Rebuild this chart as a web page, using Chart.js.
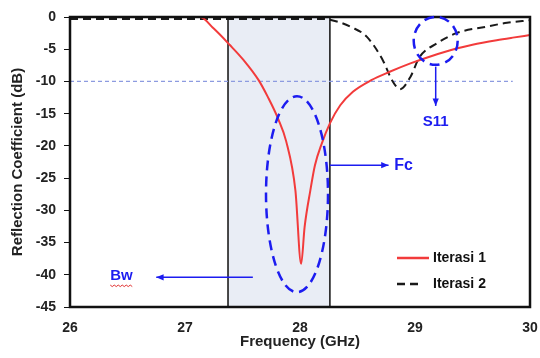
<!DOCTYPE html>
<html lang="en">
<head>
<meta charset="UTF-8">
<title>Reflection Coefficient</title>
<script src="https://cdn.jsdelivr.net/npm/chart.js"></script>
<style>
  body { margin: 0; padding: 0; background: #ffffff; }
  #wrap { width: 540px; height: 358px; }
</style>
</head>
<body>
<div id="wrap"><canvas id="chart" width="540" height="358"></canvas></div>
<script>
// Iterasi 1 (red, solid)
const freq1 = [26, 27.13, 27.25, 27.39, 27.51, 27.64, 27.72, 27.81, 27.88, 27.96, 28.01,
               28.04, 28.09, 28.13, 28.19, 28.26, 28.35, 28.46, 28.62, 28.78,
               28.96, 29.12, 29.36, 29.50, 29.71, 29.85, 30];
const iter1 = [0, 0, -1.8, -4.35, -6.7, -9.8, -12.4, -15.8, -19.3, -26.9, -38.3,
               -32.6, -26.9, -23.0, -19.6, -16.5, -13.7, -11.6, -9.8, -8.5,
               -7.2, -6.2, -4.9, -4.3, -3.6, -3.2, -2.8];
// Iterasi 2 (black, dashed)
const freq2 = [26, 27.0, 28.2, 28.32, 28.45, 28.58, 28.72, 28.80, 28.87, 28.96, 29.04,
               29.19, 29.36, 29.62, 29.80, 30];
const iter2 = [-0.3, -0.3, -0.3, -0.7, -1.6, -3.05, -6.7, -9.8, -11.2, -9.3, -6.2,
               -4.1, -2.5, -1.5, -0.9, -0.5];

const seriesLabels = ['Iterasi 1', 'Iterasi 2'];
const xTicks = [26, 27, 28, 29, 30];
const yMin = -45, yMax = 0, yStep = 5;

// annotations (data units)
const bandStart = 27.374, bandEnd = 28.26;
const refLevel = -10, refLineEnd = 29.85;

const toXY = (xs, ys) => xs.map((x, i) => ({ x: x, y: ys[i] }));

const BLUE = '#1c1cf0';
const FONT = '"Liberation Sans", Arial, sans-serif';

const extras = {
  id: 'extras',
  beforeDatasetsDraw(chart) {
    const { ctx, chartArea: a, scales: { x, y } } = chart;
    const x0 = x.getPixelForValue(bandStart), x1 = x.getPixelForValue(bandEnd);
    ctx.save();
    ctx.fillStyle = '#e9edf5';
    ctx.fillRect(x0, a.top, x1 - x0, a.bottom - a.top);
    ctx.strokeStyle = '#111';
    ctx.lineWidth = 1.5;
    ctx.beginPath();
    ctx.moveTo(x0, a.top); ctx.lineTo(x0, a.bottom);
    ctx.moveTo(x1, a.top); ctx.lineTo(x1, a.bottom);
    ctx.stroke();
    ctx.restore();
  },
  afterDatasetsDraw(chart) {
    const { ctx, chartArea: a, scales: { x, y } } = chart;
    ctx.save();
    // frame
    ctx.strokeStyle = '#111';
    ctx.lineWidth = 2.5;
    ctx.strokeRect(a.left, a.top, a.right - a.left, a.bottom - a.top);

    // blue dashed ellipse around the dip
    ctx.strokeStyle = BLUE;
    ctx.lineWidth = 2.5;
    ctx.setLineDash([10, 6]);
    ctx.beginPath();
    ctx.ellipse(x.getPixelForValue(27.974), y.getPixelForValue(-27.5), 31, 98, 0, 0, Math.PI * 2);
    ctx.stroke();
    // small circle near the crossing
    ctx.beginPath();
    ctx.ellipse(x.getPixelForValue(29.18), y.getPixelForValue(-3.7), 22, 24, 0, 0, Math.PI * 2);
    ctx.stroke();
    ctx.setLineDash([]);

    // arrows
    const arrow = (xa, ya, xb, yb) => {
      ctx.lineWidth = 1.5;
      ctx.beginPath();
      ctx.moveTo(xa, ya); ctx.lineTo(xb, yb);
      ctx.stroke();
      const ang = Math.atan2(yb - ya, xb - xa);
      ctx.beginPath();
      ctx.moveTo(xb, yb);
      ctx.lineTo(xb - 8 * Math.cos(ang - 0.4), yb - 8 * Math.sin(ang - 0.4));
      ctx.lineTo(xb - 8 * Math.cos(ang + 0.4), yb - 8 * Math.sin(ang + 0.4));
      ctx.closePath();
      ctx.fillStyle = BLUE;
      ctx.fill();
    };
    const cx = x.getPixelForValue(29.18);
    arrow(cx, y.getPixelForValue(-7.7), cx, y.getPixelForValue(-13.8));
    arrow(x.getPixelForValue(bandEnd), y.getPixelForValue(-23), x.getPixelForValue(28.77), y.getPixelForValue(-23));
    arrow(x.getPixelForValue(27.59), y.getPixelForValue(-40.4), x.getPixelForValue(26.75), y.getPixelForValue(-40.4));

    ctx.fillStyle = BLUE;
    ctx.font = 'bold 15px ' + FONT;
    ctx.textBaseline = 'middle';
    ctx.textAlign = 'center';
    ctx.fillText('S11', cx, y.getPixelForValue(-16.3));
    ctx.textAlign = 'left';
    ctx.font = 'bold 16px ' + FONT;
    ctx.fillText('Fc', x.getPixelForValue(28.82), y.getPixelForValue(-23));
    ctx.font = 'bold 15px ' + FONT;
    const bx = x.getPixelForValue(26.35), by = y.getPixelForValue(-40.2);
    ctx.fillText('Bw', bx, by);
    // red squiggle under Bw
    const bw = ctx.measureText('Bw').width;
    ctx.strokeStyle = '#e03030';
    ctx.lineWidth = 1;
    ctx.beginPath();
    for (let i = 0; i <= bw; i += 2) {
      const yy = by + 9 + (i % 4 === 0 ? 0 : 1.5);
      if (i === 0) ctx.moveTo(bx + i, yy); else ctx.lineTo(bx + i, yy);
    }
    ctx.stroke();

    // legend
    const ds = chart.data.datasets;
    ctx.font = 'bold 14px ' + FONT;
    ctx.textAlign = 'left';
    [0, 1].forEach(i => {
      const ly = 258 + i * 26;
      ctx.strokeStyle = ds[i].borderColor;
      ctx.lineWidth = 2.5;
      ctx.setLineDash(ds[i].borderDash || []);
      ctx.beginPath();
      ctx.moveTo(397, ly); ctx.lineTo(i === 0 ? 429 : 423, ly);
      ctx.stroke();
      ctx.setLineDash([]);
      ctx.fillStyle = '#111';
      ctx.fillText(ds[i].label, 433, ly);
    });
    ctx.restore();
  }
};

new Chart(document.getElementById('chart'), {
  type: 'line',
  data: {
    datasets: [
      {
        label: seriesLabels[0],
        data: toXY(freq1, iter1),
        borderColor: '#f23b3b',
        borderWidth: 2,
        pointRadius: 0,
        cubicInterpolationMode: 'monotone',
        fill: false
      },
      {
        label: seriesLabels[1],
        data: toXY(freq2, iter2),
        borderColor: '#1a1a1a',
        borderWidth: 2,
        borderDash: [8, 5],
        pointRadius: 0,
        cubicInterpolationMode: 'monotone',
        fill: false
      },
      {
        label: 'ref',
        data: [{ x: xTicks[0], y: refLevel }, { x: refLineEnd, y: refLevel }],
        borderColor: '#8d9be0',
        borderWidth: 1.3,
        borderDash: [4, 3],
        pointRadius: 0,
        fill: false
      }
    ]
  },
  options: {
    responsive: false,
    animation: false,
    layout: { padding: { top: 17, right: 10, left: 0, bottom: 0 } },
    plugins: { legend: { display: false }, tooltip: { enabled: false } },
    scales: {
      x: {
        type: 'linear',
        min: xTicks[0],
        max: xTicks[xTicks.length - 1],
        afterFit: s => { s.height = 51; s.paddingLeft = 0; s.paddingRight = 0; },
        afterBuildTicks: s => { s.ticks = xTicks.map(v => ({ value: v })); },
        grid: { display: false, drawTicks: false },
        border: { display: false },
        ticks: {
          padding: 13,
          color: '#222',
          font: { family: FONT, size: 14, weight: 'bold' }
        },
        title: {
          display: true,
          text: 'Frequency (GHz)',
          color: '#222',
          font: { family: FONT, size: 15, weight: 'bold' },
          padding: { top: 0, bottom: 7 }
        }
      },
      y: {
        min: yMin,
        max: yMax,
        afterFit: s => { s.width = 70; s.paddingTop = 0; s.paddingBottom = 0; },
        grid: { drawOnChartArea: false, drawTicks: true, tickLength: 6, color: '#111' },
        border: { display: false },
        ticks: {
          stepSize: yStep,
          padding: 8,
          color: '#222',
          font: { family: FONT, size: 14, weight: 'bold' }
        },
        title: {
          display: true,
          text: 'Reflection Coefficient (dB)',
          color: '#222',
          font: { family: FONT, size: 15, weight: 'bold' },
          padding: { top: 9, bottom: 0 }
        }
      }
    }
  },
  plugins: [extras]
});
</script>
</body>
</html>
